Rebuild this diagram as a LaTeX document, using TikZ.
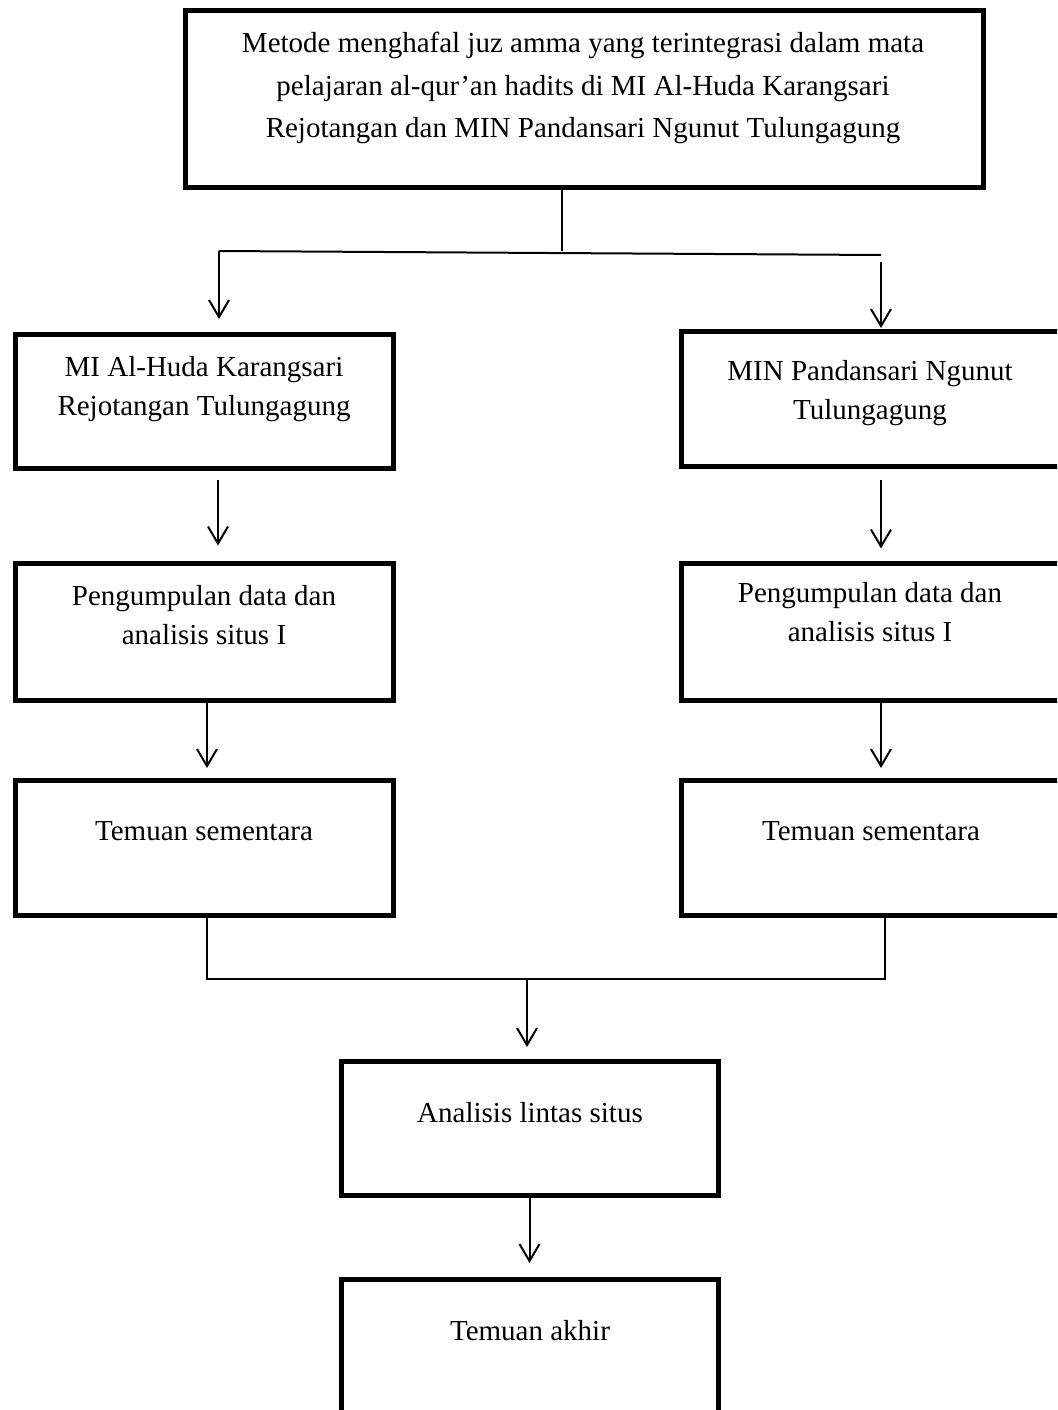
\documentclass[tikz,border=0pt]{standalone}
\usepackage{fontspec}
\setmainfont{Liberation Serif}
\usetikzlibrary{arrows.meta}
\begin{document}
\begin{tikzpicture}[x=1pt,y=-1pt,
  box/.style={draw, line width=5pt, rectangle, inner sep=0pt, outer sep=0pt},
  lbl/.style={anchor=base, inner sep=0pt, outer sep=0pt, font=\fontsize{29}{39}\selectfont},
  lbltop/.style={lbl, font=\fontsize{29}{42.5}\selectfont},
  conn/.style={line width=2pt},
  arr/.style={line width=2pt, -{Straight Barb[length=17pt,width=20pt]}}]
\useasboundingbox (0,0) rectangle (1057,1410);
\clip (0,0) rectangle (1057,1410);
\fill[white] (0,0) rectangle (1057,1410);

% boxes
\node[box, minimum width=798pt, minimum height=176pt] (top) at (584,99) {};
\node[box, minimum width=378pt, minimum height=134pt] (l1) at (204,401) {};
\node[box, minimum width=398pt, minimum height=135pt] (r1) at (880,398.5) {};
\node[box, minimum width=378pt, minimum height=137pt] (l2) at (204,632) {};
\node[box, minimum width=398pt, minimum height=137pt] (r2) at (880,632) {};
\node[box, minimum width=378pt, minimum height=135pt] (l3) at (204,847.5) {};
\node[box, minimum width=398pt, minimum height=135pt] (r3) at (880,847.5) {};
\node[box, minimum width=377pt, minimum height=134pt] (cb) at (529.5,1128) {};
\node[box, minimum width=377pt, minimum height=221pt] (bb) at (529.5,1389.5) {};

% texts
\node[lbltop] (ttop) at (583,53) {\begin{tabular}[t]{@{}c@{}}Metode menghafal juz amma yang terintegrasi dalam mata\\ pelajaran al-qur’an hadits di MI Al-Huda Karangsari\\ Rejotangan dan MIN Pandansari Ngunut Tulungagung\end{tabular}};
\node[lbl] (tl1) at (204,376) {\begin{tabular}[t]{@{}c@{}}MI Al-Huda Karangsari\\ Rejotangan Tulungagung\end{tabular}};
\node[lbl] (tr1) at (870,380) {\begin{tabular}[t]{@{}c@{}}MIN Pandansari Ngunut\\ Tulungagung\end{tabular}};
\node[lbl] (tl2) at (204,605) {\begin{tabular}[t]{@{}c@{}}Pengumpulan data dan\\ analisis situs I\end{tabular}};
\node[lbl] (tr2) at (870,602) {\begin{tabular}[t]{@{}c@{}}Pengumpulan data dan\\ analisis situs I\end{tabular}};
\node[lbl] (tl3) at (204,840) {Temuan sementara};
\node[lbl] (tr3) at (871,840) {Temuan sementara};
\node[lbl] (tcb) at (530,1122) {Analisis lintas situs};
\node[lbl] (tbb) at (530,1340) {Temuan akhir};

% junction coordinates
\coordinate (tc) at (562,251);
\coordinate (jL) at (219,251);
\coordinate (jR) at (881,255);
\coordinate (rS) at (881,262);
\coordinate (a2L) at (218,470);
\coordinate (a2R) at (881,470);
\coordinate (a3L) at (207,700);
\coordinate (a3R) at (881,700);
\coordinate (mL) at (207,979);
\coordinate (mR) at (885,979);
\coordinate (mC) at (527,979);

% connectors
\draw[conn] (tc |- top.south) -- (tc);
\draw[conn] (jL) -- (jR);
\draw[arr, shorten >=15pt] (jL) -- (jL |- l1.north);
\draw[arr, shorten >=3pt] (rS) -- (rS |- r1.north);
\draw[arr, shorten <=12pt, shorten >=18pt] (a2L |- l1.south) -- (a2L |- l2.north);
\draw[arr, shorten <=14pt, shorten >=15pt] (a2R |- r1.south) -- (a2R |- r2.north);
\draw[arr, shorten <=1pt, shorten >=12pt] (a3L |- l2.south) -- (a3L |- l3.north);
\draw[arr, shorten <=1pt, shorten >=12pt] (a3R |- r2.south) -- (a3R |- r3.north);
\draw[conn] (mL |- l3.south) -- (mL) -- (mR) -- (mR |- r3.south);
\draw[arr, shorten >=14pt] (mC) -- (mC |- cb.north);
\draw[arr, shorten >=16pt] (cb.south) -- (bb.north);
\end{tikzpicture}
\end{document}
